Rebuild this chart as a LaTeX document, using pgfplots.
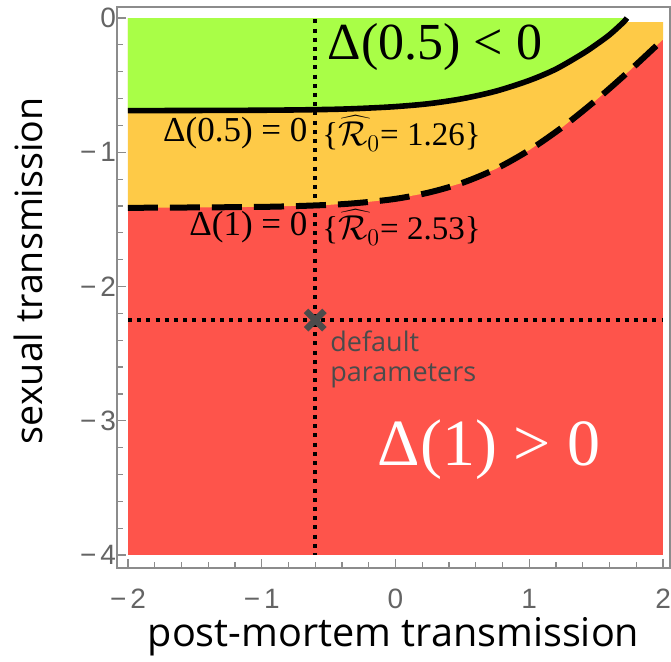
\documentclass[border=0pt]{standalone}
\usepackage{pgfplots}
\pgfplotsset{compat=1.18}
\usepackage{fontspec}
\setmainfont{Liberation Serif}
\newfontfamily\labelfont{Open Sans}
\newfontfamily\tickfont{Liberation Sans}
\definecolor{cgreen}{RGB}{169,254,71}
\definecolor{corange}{RGB}{254,202,71}
\definecolor{cred}{RGB}{254,84,75}
\definecolor{axgray}{RGB}{140,140,140}
\definecolor{tickgray}{RGB}{100,100,100}
\definecolor{xgray}{RGB}{75,75,75}
\begin{document}
\begin{tikzpicture}
\begin{axis}[
  scale only axis, width=276.5pt, height=280.5pt,
  xmin=-2.082, xmax=2.052, ymin=-4.097, ymax=0.082,
  axis line style={axgray, line width=0.8pt},
  xtick={-2,-1,0,1,2}, xticklabels={−\kern2pt 2,−\kern2pt 1,0,1,2},
  ytick={-4,-3,-2,-1,0}, yticklabels={−\kern2pt 4,−\kern2pt 3,−\kern2pt 2,−\kern2pt 1,0},
  minor tick num=4,
  tick align=inside, xtick pos=bottom, ytick pos=left,
  major tick length=4.5pt, minor tick length=3pt,
  tick style={axgray, line width=0.6pt},
  ticklabel style={font=\tickfont\fontsize{14}{15}\selectfont, text=tickgray},
  yticklabel style={xshift=3pt},
  xticklabel style={yshift=-7pt},
  xlabel={post-mortem transmission}, ylabel={sexual transmission},
  every axis x label/.style={at={([yshift=-34.5pt]rel axis cs:0.5,0)}, anchor=center, font=\labelfont\fontsize{19.8}{22}\selectfont},
  every axis y label/.style={at={([xshift=-44.5pt]rel axis cs:0,0.53)}, anchor=center, rotate=90, font=\labelfont\fontsize{18.8}{22}\selectfont},
  clip=false,
]
% red region
\addplot[fill=cred, draw=none] coordinates {(-2,-4) (2,-4) (2,-0.16) (-2,-0.16)} -- cycle;
% orange region (above dashed curve)
\addplot[fill=corange, draw=none] coordinates {
 (-2,-1.414) (-1,-1.407) (-0.5,-1.392) (-0.25,-1.375) (0,-1.347) (0.25,-1.300)
 (0.5,-1.228) (0.75,-1.124) (1.0,-0.984) (1.25,-0.811) (1.5,-0.611) (1.75,-0.392) (2.0,-0.160)
 (2,-0.03) (1.73,-0.03) (1.73,0) (-2,0)} -- cycle;
% green region (above solid curve)
\addplot[fill=cgreen, draw=none] coordinates {
 (-2,-0.690) (-1,-0.687) (-0.5,-0.681) (-0.25,-0.673) (0,-0.660) (0.25,-0.638)
 (0.5,-0.601) (0.75,-0.545) (1.0,-0.465) (1.2,-0.380) (1.4,-0.265) (1.5,-0.198)
 (1.6,-0.125) (1.7,-0.035) (1.73,0) (-2,0)} -- cycle;
% solid curve
\addplot[black, line width=2.8pt, smooth] coordinates {
 (-2,-0.690) (-1,-0.687) (-0.5,-0.681) (-0.25,-0.673) (0,-0.660) (0.25,-0.638)
 (0.5,-0.601) (0.75,-0.545) (1.0,-0.465) (1.2,-0.380) (1.4,-0.265) (1.5,-0.198)
 (1.6,-0.125) (1.7,-0.035) (1.73,0)};
% dashed curve
\addplot[black, line width=3pt, dash pattern=on 15pt off 6pt, smooth] coordinates {
 (-2,-1.414) (-1,-1.407) (-0.5,-1.392) (-0.25,-1.375) (0,-1.347) (0.25,-1.300)
 (0.5,-1.228) (0.75,-1.124) (1.0,-0.984) (1.25,-0.811) (1.5,-0.611) (1.75,-0.392) (2.0,-0.160)};
% dotted guides
\addplot[black, line width=2pt, dash pattern=on 2pt off 2.6pt] coordinates {(-0.6,-0.01) (-0.6,-4)};
\addplot[black, line width=2pt, dash pattern=on 2pt off 2.6pt] coordinates {(-2,-2.25) (2,-2.25)};
% default parameters marker
\addplot[only marks, mark=x, mark size=6.5pt, mark options={xgray, line width=3.2pt}] coordinates {(-0.6,-2.25)};
% texts
\node[font=\fontsize{26}{26}\selectfont] at (axis cs:0.295,-0.216) {Δ(0.5) < 0};
\node[text=white, font=\fontsize{33}{33}\selectfont] at (axis cs:0.699,-3.218) {Δ(1) > 0};
\node[anchor=east, inner sep=0pt, font=\fontsize{17.5}{17.5}\selectfont] at (axis cs:-0.655,-0.86) {Δ(0.5) = 0};
\node[anchor=west, inner sep=0pt, font=\fontsize{16.5}{16.5}\selectfont] at (axis cs:-0.55,-0.86) {\{$\widehat{\mathcal{R}}_0$= 1.26\}};
\node[anchor=east, inner sep=0pt, font=\fontsize{17.5}{17.5}\selectfont] at (axis cs:-0.655,-1.56) {Δ(1) = 0};
\node[anchor=west, inner sep=0pt, font=\fontsize{16.5}{16.5}\selectfont] at (axis cs:-0.55,-1.56) {\{$\widehat{\mathcal{R}}_0$= 2.53\}};
\node[anchor=north west, inner sep=0pt, align=left, text=xgray, font=\labelfont\fontsize{13.5}{15}\selectfont] at (axis cs:-0.49,-2.33) {default\\parameters};
\end{axis}
\pgfresetboundingbox
\path ([shift={(-58.5pt,-46.5pt)}]current axis.south west) rectangle ([shift={(0.5pt,3.5pt)}]current axis.north east);
\end{tikzpicture}
\end{document}
